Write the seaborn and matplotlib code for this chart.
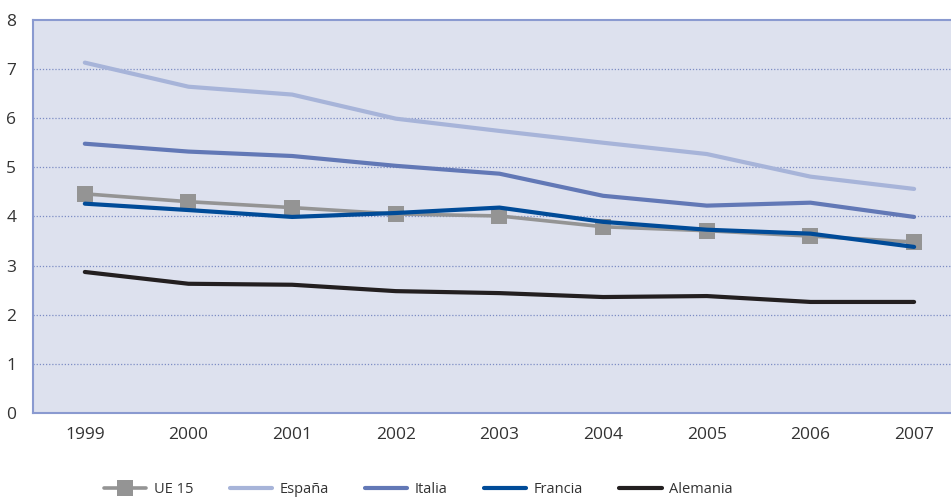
import matplotlib
matplotlib.use("Agg")
import matplotlib.pyplot as plt
import seaborn as sns
import pandas as pd

years = ["1999", "2000", "2001", "2002", "2003", "2004", "2005", "2006", "2007"]
ue15 = [4.46, 4.30, 4.18, 4.05, 4.01, 3.79, 3.71, 3.60, 3.48]
espana = [7.13, 6.64, 6.48, 5.99, 5.74, 5.50, 5.27, 4.81, 4.56]
italia = [5.48, 5.32, 5.23, 5.03, 4.87, 4.42, 4.22, 4.28, 3.99]
francia = [4.26, 4.13, 3.99, 4.07, 4.18, 3.89, 3.73, 3.65, 3.38]
alemania = [2.87, 2.63, 2.61, 2.48, 2.44, 2.36, 2.38, 2.26, 2.26]

series = {
    "UE 15": ue15,
    "España": espana,
    "Italia": italia,
    "Francia": francia,
    "Alemania": alemania,
}
colors = {
    "UE 15": "#949494",
    "España": "#a7b4d9",
    "Italia": "#6278b6",
    "Francia": "#004b98",
    "Alemania": "#231f20",
}

sns.set_theme(style="white")
plt.rcParams["font.family"] = ["Open Sans", "DejaVu Sans"]

df = pd.DataFrame(
    [(i, name, v) for name, vals in series.items() for i, v in enumerate(vals)],
    columns=["x", "serie", "valor"],
)

fig = plt.figure(figsize=(9.51, 4.97), dpi=100)
# the plot area runs slightly past the right edge of the figure
ax = fig.add_axes([0.0347, 0.169, 0.981, 0.791])
ax.set_facecolor("#dde1ee")

# gray reference line first so the country lines sit above it
for name in series:
    sub = df[df["serie"] == name]
    if name == "UE 15":
        sns.lineplot(data=sub, x="x", y="valor", ax=ax, color=colors[name],
                     linewidth=2.6, marker="s", markersize=11,
                     markeredgewidth=0, label=name, zorder=2)
    else:
        sns.lineplot(data=sub, x="x", y="valor", ax=ax, color=colors[name],
                     linewidth=3.0, label=name, zorder=3)

ax.set_xlim(-0.5, 8.5)
ax.set_ylim(0, 8)
ax.set_xticks(range(len(years)))
ax.set_xticklabels(years)
ax.set_yticks(range(0, 9))
ax.set_xlabel("")
ax.set_ylabel("")
ax.tick_params(axis="both", length=0, labelsize=12.5, colors="#333333")
ax.tick_params(axis="x", pad=10)
ax.tick_params(axis="y", pad=12)

for y in range(1, 8):
    ax.axhline(y, color="#7d8cc4", linewidth=0.9, linestyle=(0, (1, 1.5)), zorder=1)

for side in ["left", "bottom", "top"]:
    ax.spines[side].set_color("#8a9ad0")
    ax.spines[side].set_linewidth(1.5)
ax.spines["right"].set_visible(False)

handles, labels = ax.get_legend_handles_labels()
ax.get_legend().remove()
fig.legend(handles, labels, loc="lower center", ncol=5, frameon=False,
           bbox_to_anchor=(0.44, -0.026), fontsize=10.5, handlelength=2.9,
           columnspacing=2.5, handletextpad=0.5, labelcolor="#333333")

fig.savefig("out.png", dpi=100)
